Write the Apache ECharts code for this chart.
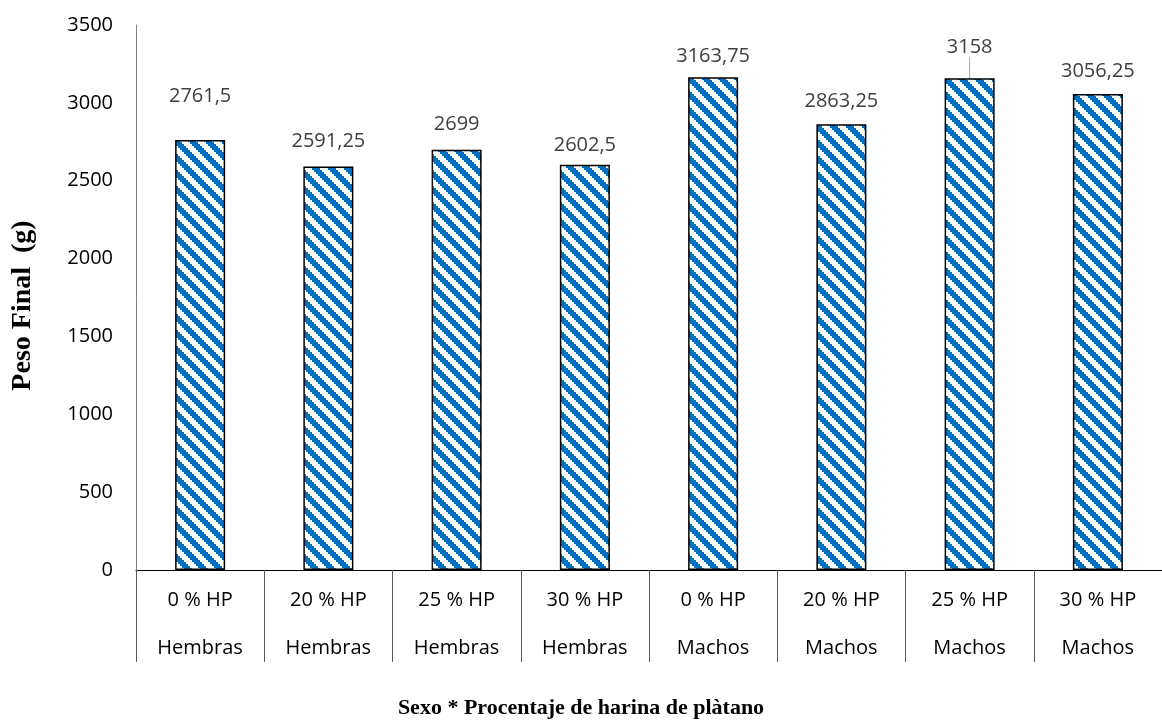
<!DOCTYPE html>
<html>
<head>
<meta charset="utf-8">
<script src="https://cdn.jsdelivr.net/npm/echarts@6/dist/echarts.min.js"></script>
<style>
  html, body { margin: 0; padding: 0; background: #fff; }
  #chart { width: 1162px; height: 726px; }
</style>
</head>
<body>
<div id="chart"></div>
<script>
// datos
const porcentajes = ['0 % HP', '20 % HP', '25 % HP', '30 % HP', '0 % HP', '20 % HP', '25 % HP', '30 % HP'];
const sexos = ['Hembras', 'Hembras', 'Hembras', 'Hembras', 'Machos', 'Machos', 'Machos', 'Machos'];
const pesoFinal = [2761.5, 2591.25, 2699, 2602.5, 3163.75, 2863.25, 3158, 3056.25];
const etiquetas = ['2761,5', '2591,25', '2699', '2602,5', '3163,75', '2863,25', '3158', '3056,25'];
// ajuste vertical de cada etiqueta (como fueron movidas en el original)
const ajusteEtiqueta = [-19, 0, 0, 6, 4, 2, -6, 2];

// patrón de rayas diagonales (azul / blanco)
function crearPatron() {
  const c = document.createElement('canvas');
  c.width = 16; c.height = 16;
  const ctx = c.getContext('2d');
  ctx.fillStyle = '#ffffff';
  ctx.fillRect(0, 0, 16, 16);
  ctx.fillStyle = '#0070C0';
  for (let by = 0; by < 8; by++) {
    for (let bx = 0; bx < 8; bx++) {
      if (((bx - by) % 8 + 8) % 8 < 4) ctx.fillRect(bx * 2, by * 2, 2, 2);
    }
  }
  return c;
}

const categorias = porcentajes.map((p, i) => p + '\n' + sexos[i]);
const fuente = 'Open Sans';

const chart = echarts.init(document.getElementById('chart'));
chart.setOption({
  animation: false,
  grid: { left: 136, right: 0, top: 25, bottom: 156 },
  xAxis: {
    type: 'category',
    data: categorias,
    name: 'Sexo * Procentaje de harina de plàtano',
    nameLocation: 'middle',
    nameGap: 127,
    nameTextStyle: {
      fontFamily: 'Liberation Serif', fontWeight: 'bold', fontSize: 22, color: '#000',
      padding: [0, 136, 0, 0]
    },
    axisLine: { lineStyle: { color: '#000', width: 1 } },
    axisTick: { show: true, length: 92, interval: 0, lineStyle: { color: '#595959' } },
    axisLabel: {
      interval: 0, margin: 6, lineHeight: 48,
      fontFamily: fuente, fontSize: 20, color: '#000'
    }
  },
  yAxis: {
    type: 'value',
    min: 0, max: 3500, interval: 500,
    name: 'Peso Final  (g)',
    nameLocation: 'middle',
    nameGap: 99,
    nameTextStyle: {
      fontFamily: 'Liberation Serif', fontWeight: 'bold', fontSize: 28, color: '#000',
      padding: [0, 16, 0, 0]
    },
    axisLine: { show: true, lineStyle: { color: '#7f7f7f' } },
    axisTick: { show: false },
    splitLine: { show: false },
    axisLabel: {
      margin: 23, fontFamily: fuente, fontSize: 20, color: '#000',
      formatter: v => String(v)
    }
  },
  series: [{
    type: 'bar',
    barWidth: '39%',
    data: pesoFinal.map((v, i) => ({
      value: v,
      label: { formatter: etiquetas[i] },
      labelLine: { show: i === 6 }
    })),
    itemStyle: {
      color: { image: crearPatron(), repeat: 'repeat' },
      borderColor: '#000',
      borderWidth: 1.5
    },
    label: {
      show: true, position: 'top', distance: 15,
      fontFamily: fuente, fontSize: 20, color: '#404040'
    },
    labelLayout: p => ({ dy: ajusteEtiqueta[p.dataIndex] }),
    labelLine: { show: false, length2: 0, lineStyle: { color: '#a6a6a6', width: 1 } }
  }]
});
</script>
</body>
</html>
